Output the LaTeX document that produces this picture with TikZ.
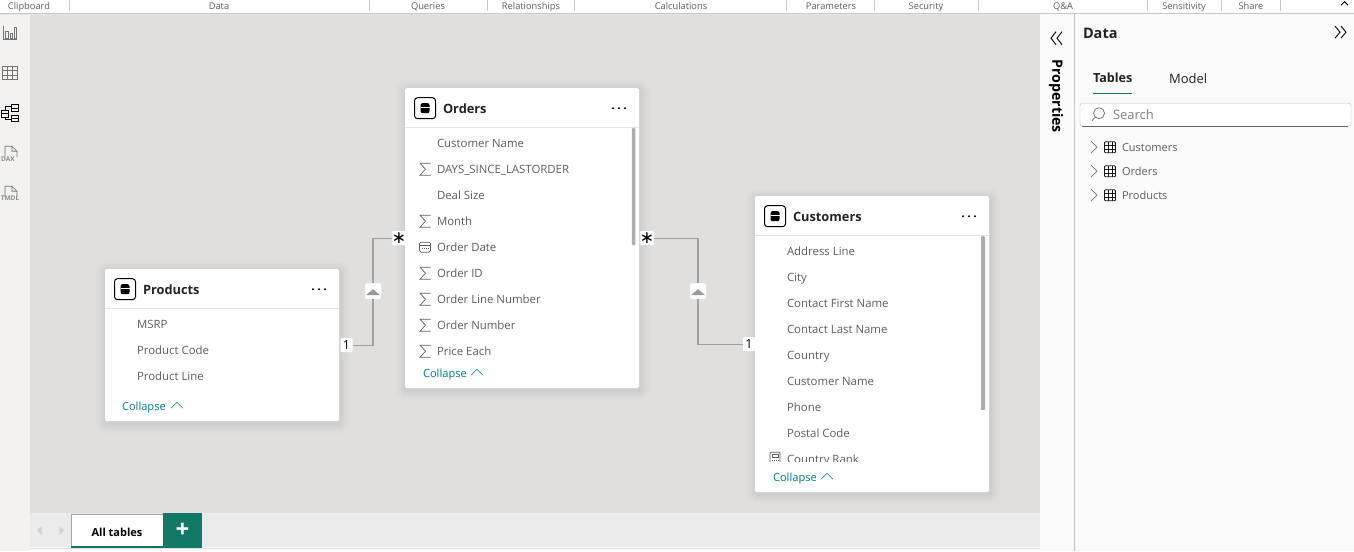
\documentclass[tikz,border=0pt]{standalone}
\usepackage{fontspec}
\setmainfont{Open Sans}
\newfontfamily\symfont{DejaVu Sans}
\usepackage{xcolor}
\usetikzlibrary{arrows.meta,positioning}
\definecolor{canvasgray}{HTML}{E1DFDD}
\definecolor{railgray}{HTML}{F3F2F1}
\definecolor{panewhite}{HTML}{FAFAFA}
\definecolor{stripgray}{HTML}{EBEBEB}
\definecolor{fieldgray}{HTML}{605E5C}
\definecolor{titleblack}{HTML}{252423}
\definecolor{linkteal}{HTML}{037C8A}
\definecolor{tabgreen}{HTML}{117865}
\definecolor{relgray}{HTML}{A19F9D}

\begin{document}
\begin{tikzpicture}[
  x=1pt, y=-1pt,
  every node/.style={inner sep=0pt, outer sep=0pt},
  card/.style={fill=white, rounded corners=1.5pt, minimum width=234pt},
  soft/.style={preaction={draw=black, draw opacity=0.012, line width=20pt, transform canvas={xshift=1pt, yshift=-2pt}},
               preaction={draw=black, draw opacity=0.016, line width=14pt, transform canvas={xshift=1pt, yshift=-2pt}},
               preaction={draw=black, draw opacity=0.02, line width=9pt, transform canvas={xshift=1pt, yshift=-2pt}},
               preaction={draw=black, draw opacity=0.025, line width=4pt, transform canvas={xshift=1pt, yshift=-2pt}}},
  title/.style={anchor=west, font=\fontsize{12.8}{15}\selectfont\bfseries, text=titleblack,
                text height=12pt, text depth=1pt},
  field/.style={anchor=west, font=\fontsize{11.4}{13}\selectfont, text=fieldgray,
                text height=10pt, text depth=2pt, inner ysep=7pt},
  nextrow/.style={below=0pt of #1.south west, anchor=north west},
  collapse/.style={anchor=west, font=\fontsize{11.1}{13}\selectfont, text=linkteal,
                   text height=10pt, text depth=2pt},
  ribbon/.style={font=\fontsize{9.3}{10}\selectfont, text=fieldgray, text height=8pt, text depth=2pt},
  treeitem/.style={anchor=west, font=\fontsize{11}{13}\selectfont, text=fieldgray,
                   text height=10pt, text depth=2pt},
  badge/.style={fill=white, minimum width=12pt, minimum height=14pt, rounded corners=1pt,
                font=\fontsize{12.5}{14}\selectfont, text=black},
  starbadge/.style={badge, font=\symfont\fontsize{17}{17}\selectfont},
  knob/.style={fill=white, draw=black!8, minimum width=16pt, minimum height=16pt, rounded corners=1.5pt},
  rel/.style={draw=relgray, line width=1.3pt},
  scrollbar/.style={fill=black!32, rounded corners=1pt},
  railtag/.style={font=\fontsize{6.5}{7}\selectfont\bfseries, text=black!45},
  sigma/.pic={\draw[fieldgray, line width=0.7pt] (5.5,-6) -- (-5,-6) -- (0.5,0) -- (-5,6) -- (5.5,6);},
  cal/.pic={\draw[fieldgray, line width=0.7pt, rounded corners=1.5pt] (-5.5,-5) rectangle (5.5,5);
            \draw[fieldgray, line width=0.7pt] (-5.5,-2) -- (5.5,-2);
            \draw[fieldgray, line width=0.9pt, densely dotted] (-3,1) -- (3.5,1);},
  dbicon/.pic={\draw[black, line width=1pt, rounded corners=3pt] (-10.5,-10.5) rectangle (10.5,10.5);
               \fill[black, rounded corners=2pt] (-4.5,-5) rectangle (4.5,5);
               \draw[white, line width=0.8pt] (-4.5,-1) -- (4.5,-1);},
  dots/.pic={\fill (-6,0) circle (1.1pt) (0,0) circle (1.1pt) (6,0) circle (1.1pt);},
  upchev/.pic={\draw[linkteal, line width=0.6pt] (-6,3) -- (0,-3) -- (6,3);},
  tbl/.pic={\draw[black!90, line width=0.9pt, rounded corners=1pt] (-5.5,-5.5) rectangle (5.5,5.5);
            \draw[black!90, line width=0.9pt] (-2,-5.5) -- (-2,5.5) (2,-5.5) -- (2,5.5) (-5.5,-2) -- (5.5,-2) (-5.5,2) -- (5.5,2);},
  rightchev/.pic={\draw[black!55, line width=0.7pt] (-3,-6) -- (3,0) -- (-3,6);},
  fileicon/.pic={\draw[black!55, line width=0.6pt] (-6,4) -- (-6,-7) -- (1,-7) -- (6,-2) -- (6,4) (1,-7) -- (1,-2) -- (6,-2);}
]
  % window
  \fill[white] (0,0) rectangle (1354,551);
  \fill[railgray] (0,0) rectangle (30,551);
  \fill[canvasgray] (30,13) rectangle (1040,513);
  \fill[panewhite] (1040,13) rectangle (1354,551);
  \fill[stripgray] (30,513) rectangle (1040,547);
  \fill[panewhite] (30,547) rectangle (1040,551);
  \draw[black!12] (30,547.5) -- (1040,547.5);
  \draw[black!22] (1074.5,13) -- (1074.5,551);

  % ribbon
  \fill[white] (0,0) rectangle (1354,13);
  \fill[black!22] (0,13) rectangle (1354,14);
  \fill[black!10] (0,14) rectangle (1040,15);
  \node[ribbon] (clipboard) at (29,6) {Clipboard};
  \node[ribbon] (data) at (219,6) {Data};
  \node[ribbon] (queries) at (428,6) {Queries};
  \node[ribbon] (relationships) at (531,6) {Relationships};
  \node[ribbon] (calculations) at (681,6) {Calculations};
  \node[ribbon] (parameters) at (831,6) {Parameters};
  \node[ribbon] (security) at (926,6) {Security};
  \node[ribbon] (qa) at (1063,6) {Q\&A};
  \node[ribbon] (sensitivity) at (1184,6) {Sensitivity};
  \node[ribbon] (share) at (1251,6) {Share};
  \draw[black!22] (69.5,0) -- (69.5,11) (369.5,0) -- (369.5,11) (487.5,0) -- (487.5,11)
    (574.5,0) -- (574.5,11) (786.5,0) -- (786.5,11) (874.5,0) -- (874.5,11) (978.5,0) -- (978.5,11)
    (1147.5,0) -- (1147.5,11) (1221.5,0) -- (1221.5,11) (1280.5,0) -- (1280.5,11);
  \draw[black, line width=1pt] (1341,5) -- (1344.5,1.5) -- (1348,5);

  % left rail
  \draw[black!55, line width=0.7pt] (3.5,26) -- (3.5,39.5) -- (16.5,39.5);
  \draw[black!55, line width=0.7pt] (5.5,31) rectangle (8,38) (10,33) rectangle (12.5,38) (14.5,27.5) rectangle (16,38);
  \draw[black!55, line width=0.7pt] (2.5,66) rectangle (17.5,79);
  \draw[black!55, line width=0.6pt] (2.5,70.5) -- (17.5,70.5) (2.5,75) -- (17.5,75) (7.5,66) -- (7.5,79) (12.5,66) -- (12.5,79);
  \draw[black, line width=0.9pt] (1.5,110) rectangle (8.5,117) (11.5,104.5) rectangle (18.5,111) (11.5,115) rectangle (18.5,121)
    (1.5,113.5) -- (8.5,113.5) (11.5,108) -- (18.5,108) (11.5,118) -- (18.5,118)
    (5,110) -- (5,106.5) -- (11.5,106.5) (5,117) -- (5,119) -- (11.5,119);
  \pic at (11,153) {fileicon};
  \node[railtag] (dax) at (8,158.5) {DAX};
  \pic at (11,193) {fileicon};
  \node[railtag] (tmdl) at (10,198) {TMDL};

  % tables
  \node[card, soft, minimum height=152pt] (products) at (222,345) {};
  \node[card, soft, minimum height=300pt] (orders) at (522,238) {};
  \node[card, soft, minimum height=296pt] (customers) at (872,344) {};

  % relationships
  \node[badge] (pone) at (346.5,345) {1};
  \node[starbadge] (ostarl) at (399,238) {∗};
  \node[starbadge] (ostarr) at (647,238) {∗};
  \node[badge] (cone) at (749,344) {1};
  \node[knob] (lknob) at (373,291) {};
  \node[knob] (rknob) at (698,291) {};
  \fill[black!40] (366,295) -- (373,289) -- (380,295) -- cycle;
  \fill[black!40] (691,295) -- (698,289) -- (705,295) -- cycle;
  \draw[rel] (pone) -| (lknob);
  \draw[rel] (lknob) |- (ostarl);
  \draw[rel] (ostarr) -| (rknob);
  \draw[rel] (rknob) |- (cone);

  % products
  \pic at (125,289) {dbicon};
  \node[title] (ptitle) at (143,289) {Products};
  \pic at (319,289) {dots};
  \draw[black!10] (105,308) -- (339,308);
  \node[field] (msrp) at (137,324) {MSRP};
  \node[field, nextrow=msrp] (pcode) {Product Code};
  \node[field, nextrow=pcode] (pline) {Product Line};
  \node[collapse] (pcollapse) at (122,406) {Collapse};
  \pic at (177,405) {upchev};

  % orders
  \pic at (425,108) {dbicon};
  \node[title] (otitle) at (443,108) {Orders};
  \pic at (619,108) {dots};
  \draw[black!10] (405,127) -- (639,127);
  \node[field] (oname) at (437,143) {Customer Name};
  \node[field, nextrow=oname] (odays) {DAYS\_SINCE\_LASTORDER};
  \node[field, nextrow=odays] (odeal) {Deal Size};
  \node[field, nextrow=odeal] (omonth) {Month};
  \node[field, nextrow=omonth] (odate) {Order Date};
  \node[field, nextrow=odate] (oid) {Order ID};
  \node[field, nextrow=oid] (oline) {Order Line Number};
  \node[field, nextrow=oline] (onum) {Order Number};
  \node[field, nextrow=onum] (oprice) {Price Each};
  \pic at (425,169) {sigma};
  \pic at (425,221) {sigma};
  \pic at (425,247) {cal};
  \pic at (425,273) {sigma};
  \pic at (425,299) {sigma};
  \pic at (425,325) {sigma};
  \pic at (425,351) {sigma};
  \node[scrollbar, minimum width=3.5pt, minimum height=117pt] (oscroll) at (633.5,186.5) {};
  \node[collapse] (ocollapse) at (423,373) {Collapse};
  \pic at (477,372) {upchev};

  % customers
  \pic at (775,216) {dbicon};
  \node[title] (ctitle) at (793,216) {Customers};
  \pic at (969,216) {dots};
  \draw[black!10] (755,235) -- (989,235);
  \node[field] (caddr) at (787,251) {Address Line};
  \node[field, nextrow=caddr] (ccity) {City};
  \node[field, nextrow=ccity] (cfirst) {Contact First Name};
  \node[field, nextrow=cfirst] (clast) {Contact Last Name};
  \node[field, nextrow=clast] (ccountry) {Country};
  \node[field, nextrow=ccountry] (cname) {Customer Name};
  \node[field, nextrow=cname] (cphone) {Phone};
  \node[field, nextrow=cphone] (cpostal) {Postal Code};
  \begin{scope}
    \clip (756,446) rectangle (980,461.5);
    \node[field, nextrow=cpostal] (crank) {Country Rank};
    \draw[fieldgray, line width=0.8pt, rounded corners=1pt] (770,452) rectangle (780,470);
    \draw[fieldgray, line width=0.7pt] (772,454.5) rectangle (778,457);
    \draw[fieldgray, line width=0.9pt, densely dotted] (772,460) -- (778,460);
  \end{scope}
  \node[scrollbar, minimum width=4pt, minimum height=174pt] (cscroll) at (983,323) {};
  \node[collapse] (ccollapse) at (773,477) {Collapse};
  \pic at (827,476) {upchev};

  % bottom tabs
  \fill[black!18] (37,530) -- (41.5,526) -- (41.5,535) -- cycle;
  \fill[black!18] (64,530) -- (59.5,526) -- (59.5,535) -- cycle;
  \node[fill=white, draw=black!35, minimum width=92pt, minimum height=33pt, font=\fontsize{11}{13}\selectfont\bfseries, text=black, text height=12pt, text depth=0pt] (alltables) at (117,530.5) {All tables};
  \draw[tabgreen, line width=1.5pt] (alltables.south west) -- (alltables.south east);
  \node[fill=tabgreen, minimum width=39pt, minimum height=35pt, font=\fontsize{24}{24}\selectfont\bfseries, text=white] (addtab) at (182.5,530.5) {+};

  % properties pane
  \draw[black, line width=0.9pt] (1056,31.5) -- (1051,38) -- (1056,44.5) (1062,31.5) -- (1057,38) -- (1062,44.5);
  \node[rotate=-90, font=\fontsize{14.2}{16}\selectfont\bfseries, text=black] (properties) at (1056,96) {Properties};

  % data pane
  \node[anchor=west, font=\fontsize{14.5}{16}\selectfont\bfseries, text=titleblack] (datatitle) at (1083,33) {Data};
  \draw[black, line width=0.9pt] (1335,26) -- (1340,32) -- (1335,38) (1341,26) -- (1346,32) -- (1341,38);
  \node[anchor=west, font=\fontsize{12.6}{14}\selectfont\bfseries, text=titleblack] (tables) at (1093,78) {Tables};
  \node[anchor=west, font=\fontsize{13}{14}\selectfont, text=titleblack] (model) at (1169,78) {Model};
  \draw[tabgreen, line width=1.3pt] (1093,93) -- (1132,93);
  \node[fill=white, draw=black!25, rounded corners=2.5pt, minimum width=271pt, minimum height=23pt] (searchbox) at (1215.5,114.5) {};
  \draw[black!60] (1082,126) -- (1348,126);
  \draw[black!60, line width=0.7pt] (1099,113) circle (5.5pt) (1095,117) -- (1092,120.5);
  \node[anchor=west, font=\fontsize{13}{15}\selectfont, text=black!50] (searchtext) at (1113,114.5) {Search};
  \pic at (1094,147) {rightchev};
  \pic at (1110,147) {tbl};
  \node[treeitem] (tcustomers) at (1122,147) {Customers};
  \pic at (1094,171) {rightchev};
  \pic at (1110,171) {tbl};
  \node[treeitem] (torders) at (1122,171) {Orders};
  \pic at (1094,195) {rightchev};
  \pic at (1110,195) {tbl};
  \node[treeitem] (tproducts) at (1122,195) {Products};
\end{tikzpicture}
\end{document}
